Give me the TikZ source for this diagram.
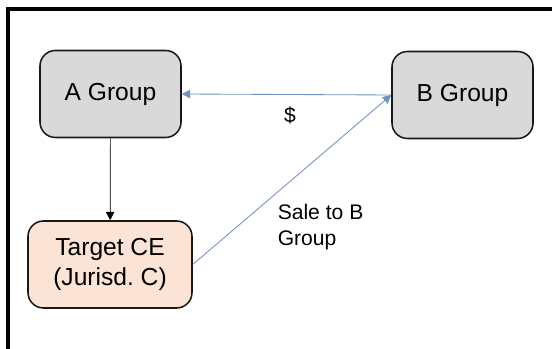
\documentclass[tikz,border=0pt]{standalone}
\usepackage{fontspec}
\setmainfont{Liberation Sans}
\usetikzlibrary{arrows.meta}
\usetikzlibrary{positioning}
\definecolor{boxgray}{RGB}{217,217,217}
\definecolor{peach}{RGB}{251,228,213}
\definecolor{flowblue}{RGB}{112,146,190}
\tikzset{
	grpbox/.style={draw=black!90,line width=1.1pt,rounded corners=11pt,fill=boxgray,
		minimum width=3.525cm,minimum height=2.175cm,align=center,
		font=\fontsize{17.5}{21}\selectfont},
	ceybox/.style={grpbox,fill=peach,minimum width=4.1cm},
	own/.style={-{Triangle[length=6pt,width=6pt]},line width=0.5pt,black},
	flow/.style={-{Triangle[length=6pt,width=6pt]},line width=0.6pt,flowblue},
	lbl/.style={font=\fontsize{15}{19}\selectfont,align=left}
}
\begin{document}
\begin{tikzpicture}
	\useasboundingbox (0,0) rectangle (13.8,8.725);
	\draw[line width=2.4pt] (0.2,0) -- (0.2,8.5) -- (13.8,8.5);
	% the three parties
	\node[grpbox] (agrp) at (2.7625,6.375) {A Group};
	\node[grpbox] (bgrp) at (11.5625,6.35) {B Group};
	\node[ceybox] (tce) at (2.75,2.1125) {Target CE\\(Jurisd.\ C)};
	% ownership and flows
	\draw[own] (agrp) -- (tce);
	\draw[flow] (bgrp.west) -- (agrp.east);
	\draw[flow] (tce.east) -- (bgrp.west);
	\node[lbl] (dollar) at (7.25,5.85) {\$};
	\node[lbl,anchor=west] (sale) at (6.82,3.05) {Sale to B\\Group};
\end{tikzpicture}
\end{document}
